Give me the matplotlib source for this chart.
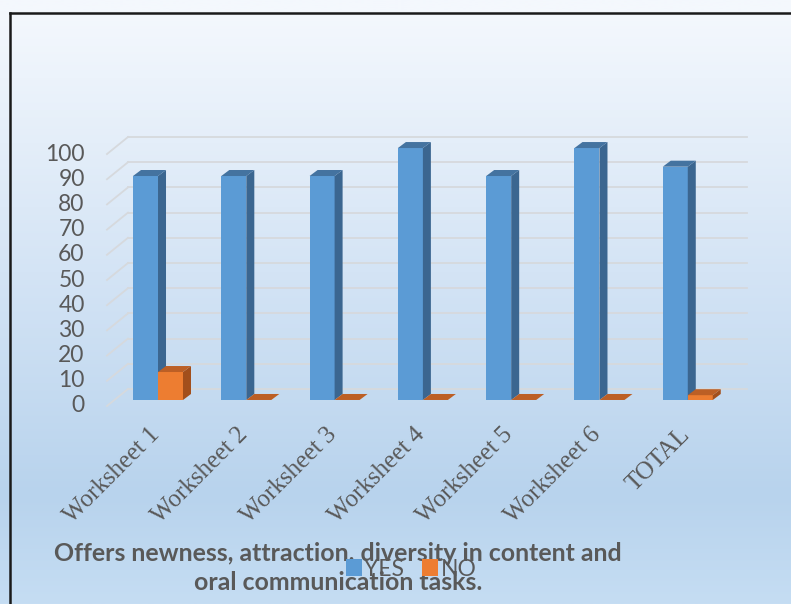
import matplotlib.pyplot as plt
import numpy as np
from matplotlib.patches import Polygon
from matplotlib.lines import Line2D

# data
categories = ['Worksheet 1', 'Worksheet 2', 'Worksheet 3', 'Worksheet 4',
              'Worksheet 5', 'Worksheet 6', 'TOTAL']
yes_values = [88.9, 88.9, 88.9, 100, 88.9, 100, 92.6]
no_values = [11.1, 0, 0, 0, 0, 0, 1.9]
y_ticks = [0, 10, 20, 30, 40, 50, 60, 70, 80, 90, 100]
title = 'Offers newness, attraction, diversity in content and\noral communication tasks.'

W, H = 791, 604
fig = plt.figure(figsize=(W / 100, H / 100), dpi=100)

# gradient background
bg = fig.add_axes([0, 0, 1, 1], zorder=-10)
stops_y = [0.0, 0.02, 0.45, 0.82, 1.0]
top_c = np.array([244, 248, 253]) / 255
mid_c = np.array([212, 228, 245]) / 255
low_c = np.array([184, 211, 237]) / 255
bot_c = np.array([197, 221, 243]) / 255
cols = [top_c, top_c, mid_c, low_c, bot_c]
yy = np.linspace(0, 1, 300)
grad = np.zeros((300, 1, 3))
for k in range(3):
    grad[:, 0, k] = np.interp(yy, stops_y, [c[k] for c in cols])
bg.imshow(grad, aspect='auto', extent=[0, 1, 1, 0])
bg.set_xlim(0, 1)
bg.set_ylim(1, 0)
bg.axis('off')

# frame: top and left lines
fig.add_artist(Line2D([10 / W, 1], [1 - 12.5 / H, 1 - 12.5 / H], color='#1a1a1a', lw=1.8))
fig.add_artist(Line2D([10 / W, 10 / W], [0, 1 - 12.5 / H], color='#1a1a1a', lw=1.8))

# main axes (x = category index, y = value)
ax = fig.add_axes([100 / W, 1 - 415.1 / H, 660 / W, 284.7 / H])
ax.set_xlim(-0.657, 6.818)
ax.set_ylim(-6, 107)
ax.patch.set_alpha(0)
ax.axis('off')

bw = 0.283           # bar width
dx, dy = 0.0906, 2.38  # bar depth
wall_dy = 4.37       # back wall shift
front_x, front_dy = -0.578, -2.38  # front-left of grid
grid_end = 6.67
grid_col = '#d6d9dd'

for v in y_ticks:
    ax.plot([-0.34, grid_end], [v + wall_dy, v + wall_dy], color=grid_col, lw=1.3, zorder=1)
    ax.plot([front_x, -0.34], [v + front_dy, v + wall_dy], color=grid_col, lw=1.3, zorder=1)
    ax.text(-0.83, v + front_dy, str(v), ha='right', va='center', fontsize=16.5,
            family='Lato', color='#595959')


def bar3d(x0, h, front, side, top, z):
    x1 = x0 + bw
    ax.bar(x0, h, bw, align='edge', color=front, zorder=z, lw=0)
    ax.add_patch(Polygon([(x1, 0), (x1 + dx, dy), (x1 + dx, h + dy), (x1, h)],
                         closed=True, color=side, lw=0, zorder=z))
    ax.add_patch(Polygon([(x0, h), (x0 + dx, h + dy), (x1 + dx, h + dy), (x1, h)],
                         closed=True, color=top, lw=0, zorder=z))


x = np.arange(len(categories))
for i in x:
    bar3d(i - bw, yes_values[i], '#5b9bd5', '#3b6690', '#4473a0', 3 + i * 2)
    bar3d(i, no_values[i], '#ed7d31', '#a24f1c', '#bc5f25', 4 + i * 2)
    ax.text(i - 0.02, -12.5, categories[i], rotation=45, rotation_mode='anchor',
            ha='right', va='center', fontsize=18, family='Liberation Serif',
            color='#595959')

# legend
h1 = ax.bar([0], [0], color='#5b9bd5', label='YES')
h2 = ax.bar([0], [0], color='#ed7d31', label='NO')
fig.legend(handles=[h1, h2], loc='center', bbox_to_anchor=(411 / W, 1 - 569 / H),
           ncol=2, frameon=False, handlelength=0.7, handleheight=0.7,
           handletextpad=0.1, columnspacing=0.8,
           prop={'family': 'Lato', 'size': 16.5}, labelcolor='#595959')

fig.text(338 / W, 1 - 568 / H, title, ha='center', va='center', fontsize=17.9,
         family='Lato', weight='bold', color='#595959', linespacing=1.36)

fig.savefig('out.png', dpi=100)
